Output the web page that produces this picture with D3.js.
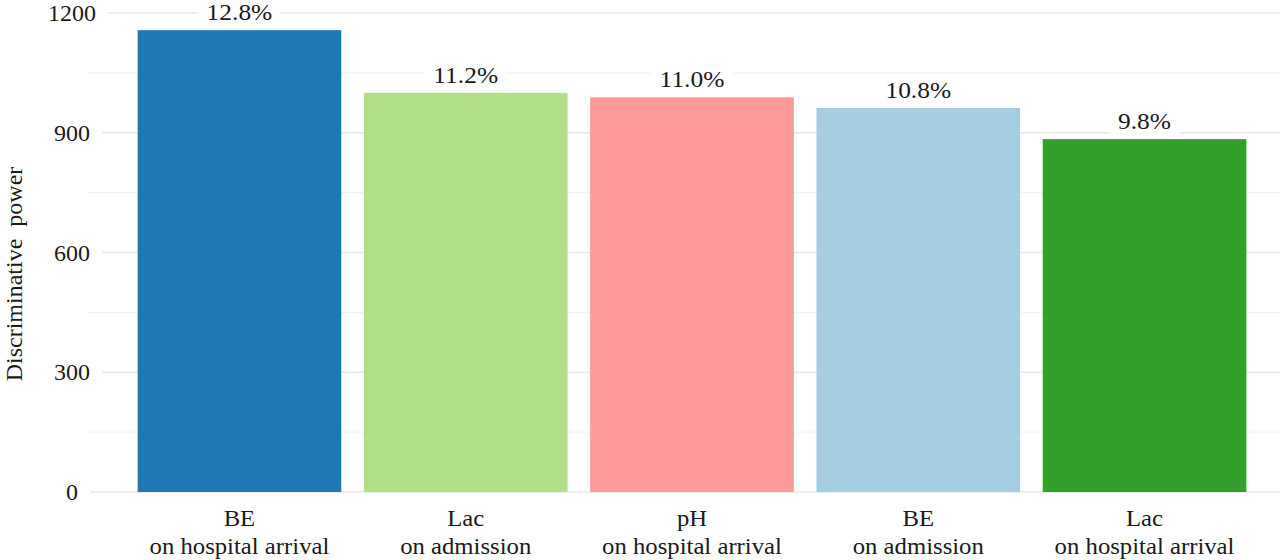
<!DOCTYPE html>
<html>
<head>
<meta charset="utf-8">
<script src="https://cdn.jsdelivr.net/npm/d3@7"></script>
<style>
  html, body { margin: 0; padding: 0; background: #fff; }
  svg { display: block; }
  text { font-family: "Liberation Serif", "DejaVu Serif", serif; fill: #1a1a1a; }
</style>
</head>
<body>
<svg id="chart" width="1280" height="560"></svg>
<script>
const categories = ["BE\non hospital arrival", "Lac\non admission", "pH\non hospital arrival", "BE\non admission", "Lac\non hospital arrival"];
const values = [1157, 1000, 989, 962, 884];
const percentLabels = ["12.8%", "11.2%", "11.0%", "10.8%", "9.8%"];
const colors = ["#1f78b4", "#b2df8a", "#fb9a99", "#a6cee3", "#33a02c"];
const majorTicks = [0, 300, 600, 900, 1200];
const minorTicks = [150, 450, 750, 1050];
const yTitle = "Discriminative power";

const svg = d3.select("#chart");
const panelLeft = 88, panelRight = 1280;

const x = d3.scaleBand().domain(categories).range([115, 1269]).padding(0.1);
const y = d3.scaleLinear().domain([0, 1200]).range([492, 13]);

// gridlines
const grid = svg.append("g");
grid.selectAll("line.minor").data(minorTicks).join("line")
  .attr("class", "minor")
  .attr("x1", panelLeft).attr("x2", panelRight)
  .attr("y1", d => y(d)).attr("y2", d => y(d))
  .attr("stroke", "#f1f1f1").attr("stroke-width", 1);
grid.selectAll("line.major").data(majorTicks).join("line")
  .attr("class", "major")
  .attr("x1", panelLeft).attr("x2", panelRight)
  .attr("y1", d => y(d)).attr("y2", d => y(d))
  .attr("stroke", "#e8e8e8").attr("stroke-width", 1.3);

// y tick labels with white background
const yTicks = svg.append("g");
yTicks.selectAll("g").data(majorTicks).join("g").each(function(d) {
  const g = d3.select(this);
  const t = g.append("text")
    .attr("x", 72).attr("y", y(d)).attr("dy", "0.34em")
    .attr("text-anchor", "middle")
    .attr("font-size", 24)
    .text(d);
  const bb = t.node().getBBox();
  g.insert("rect", "text")
    .attr("x", bb.x - 4).attr("y", y(d) - 4)
    .attr("width", bb.width + 16).attr("height", 8)
    .attr("fill", "#fff");
});

// bars
svg.append("g").selectAll("rect").data(categories).join("rect")
  .attr("x", d => x(d))
  .attr("y", (d, i) => y(values[i]))
  .attr("width", x.bandwidth())
  .attr("height", (d, i) => y(0) - y(values[i]))
  .attr("fill", (d, i) => colors[i]);

// value labels
const labels = svg.append("g");
categories.forEach((c, i) => {
  const g = labels.append("g");
  const cx = x(c) + x.bandwidth() / 2;
  const by = y(values[i]) - 10;
  const t = g.append("text")
    .attr("x", cx).attr("y", by)
    .attr("text-anchor", "middle")
    .attr("font-size", 24)
    .attr("transform", `translate(${cx},0) scale(1.06,1) translate(${-cx},0)`)
    .text(percentLabels[i]);
  const bb = t.node().getBBox();
  g.insert("rect", "text")
    .attr("x", bb.x - 10).attr("y", bb.y)
    .attr("width", bb.width + 20).attr("height", bb.height)
    .attr("fill", "#fff");
});

// x category labels
const xl = svg.append("g");
categories.forEach(c => {
  const lines = c.split("\n");
  const cx = x(c) + x.bandwidth() / 2;
  const t = xl.append("text").attr("text-anchor", "middle").attr("font-size", 24)
    .attr("transform", `translate(${cx},0) scale(1.03,1) translate(${-cx},0)`);
  lines.forEach((ln, j) => {
    t.append("tspan").attr("x", cx).attr("y", 526 + j * 28).text(ln);
  });
});

// y axis title
svg.append("text")
  .attr("transform", `translate(22, 274) rotate(-90)`)
  .attr("text-anchor", "middle")
  .attr("font-size", 24)
  .attr("word-spacing", 6)
  .text(yTitle);
</script>
</body>
</html>
